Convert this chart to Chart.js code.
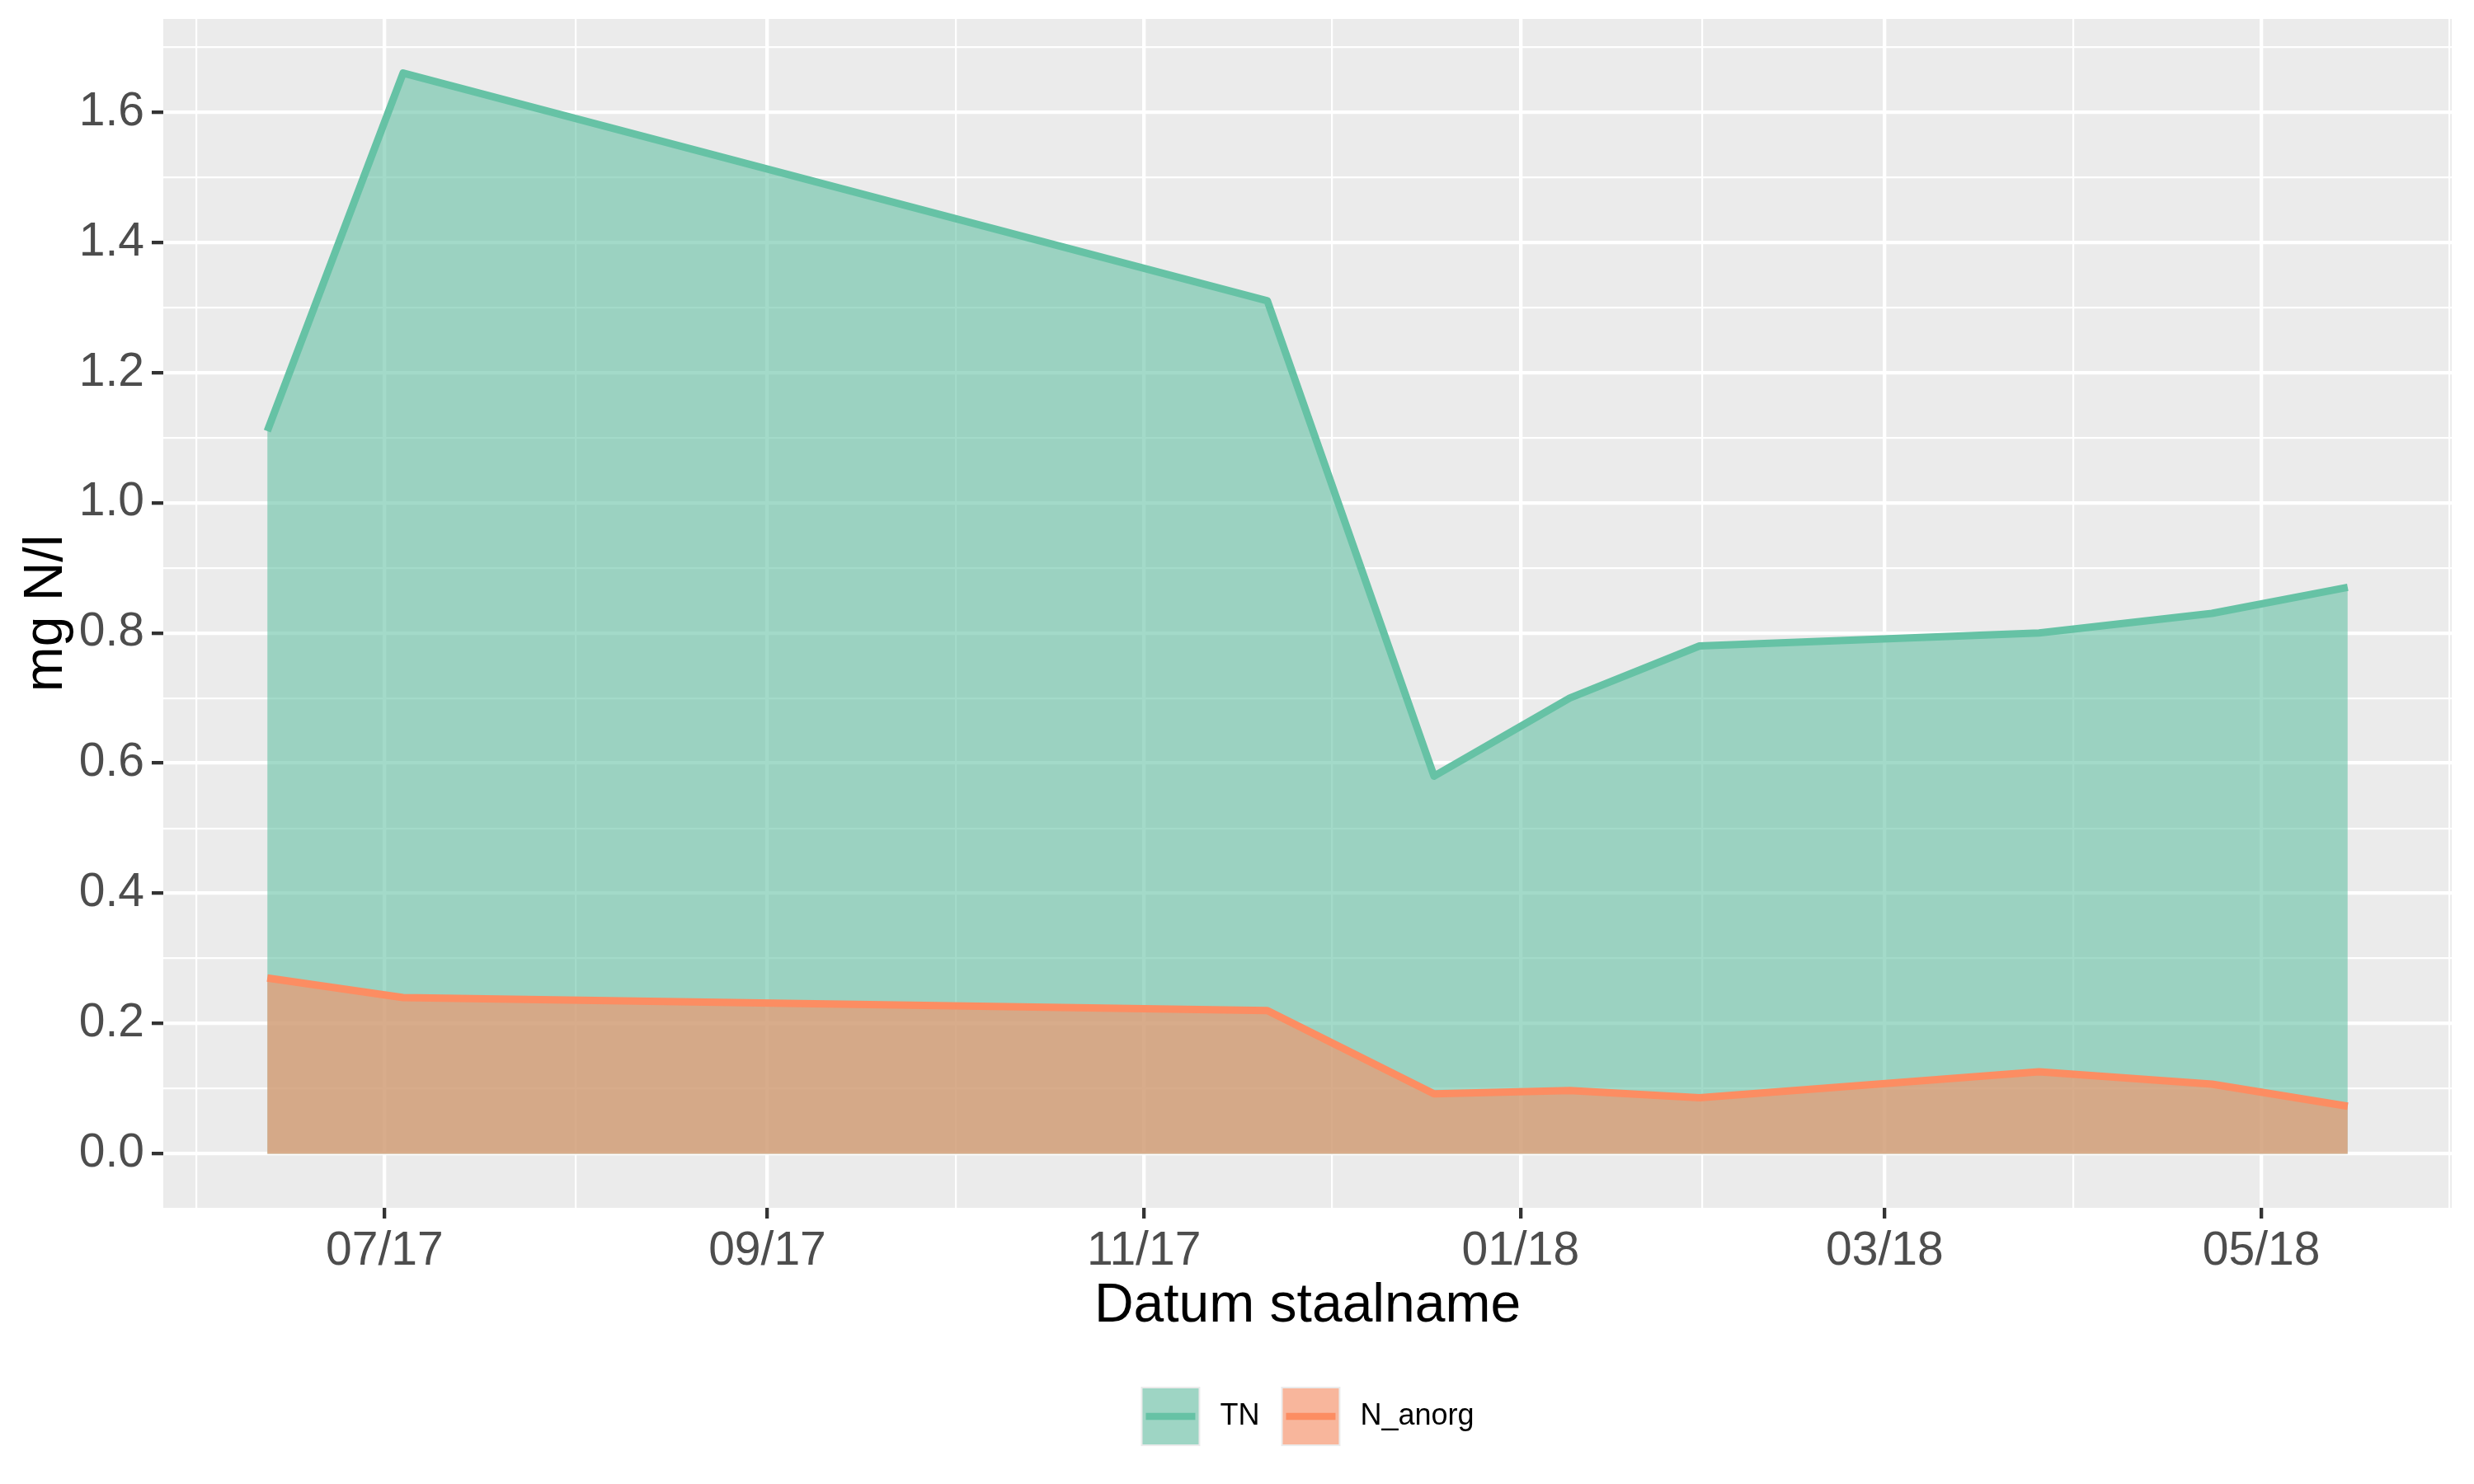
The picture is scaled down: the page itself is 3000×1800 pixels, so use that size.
<!DOCTYPE html>
<html>
<head>
<meta charset="utf-8">
<script src="https://cdn.jsdelivr.net/npm/chart.js@4.4.1/dist/chart.umd.min.js"></script>
<style>
  html, body { margin: 0; padding: 0; background: #ffffff; }
  canvas { display: block; }
</style>
</head>
<body>
<canvas id="nChart" width="3000" height="1800"></canvas>
<script>
// meetwaarden stikstof (mg N/l)
const sampleDates = ['2017-06-12', '2017-07-04', '2017-11-21', '2017-12-18', '2018-01-09',
                     '2018-01-30', '2018-03-26', '2018-04-23', '2018-05-15'];
const tnValues = [1.11, 1.66, 1.31, 0.58, 0.70, 0.78, 0.80, 0.83, 0.87];
const nAnorgValues = [0.27, 0.24, 0.22, 0.092, 0.097, 0.086, 0.126, 0.107, 0.073];
const seriesNames = ['TN', 'N_anorg'];
const seriesColors = ['#66c2a5', '#fc8d62'];

// as-indeling
const xBreaks = ['2017-07-01', '2017-09-01', '2017-11-01', '2018-01-01', '2018-03-01', '2018-05-01'];
const yBreaks = [0.0, 0.2, 0.4, 0.6, 0.8, 1.0, 1.2, 1.4, 1.6];
const xTitle = 'Datum staalname';
const yTitle = 'mg N/l';

function toDay(s) {
    const p = s.split('-').map(Number);
    return Date.UTC(p[0], p[1] - 1, p[2]) / 86400000;
}
function shiftMonths(s, n) {
    const p = s.split('-').map(Number);
    return Date.UTC(p[0], p[1] - 1 + n, p[2]) / 86400000;
}
function dayLabel(v) {
    const d = new Date(v * 86400000);
    const mm = String(d.getUTCMonth() + 1).padStart(2, '0');
    const yy = String(d.getUTCFullYear() % 100).padStart(2, '0');
    return mm + '/' + yy;
}
function rgba(hex, a) {
    const n = parseInt(hex.slice(1), 16);
    return 'rgba(' + (n >> 16) + ',' + ((n >> 8) & 255) + ',' + (n & 255) + ',' + a + ')';
}

// ggplot-achtige uitbreiding van 5%
const xDays = sampleDates.map(toDay);
const xSpan = xDays[xDays.length - 1] - xDays[0];
const xMin = xDays[0] - 0.05 * xSpan;
const xMax = xDays[xDays.length - 1] + 0.05 * xSpan;
const yTop = Math.max(...tnValues, ...nAnorgValues);
const yMin = -0.05 * yTop;
const yMax = yTop * 1.05;

// hoofd- en hulplijnen
function gridTicks(majors, before, after, min, max) {
    const all = [before].concat(majors, [after]);
    const ticks = [];
    all.forEach(function (v, i) {
        ticks.push({ value: v, isMajor: true });
        if (i < all.length - 1) ticks.push({ value: (v + all[i + 1]) / 2, isMajor: false });
    });
    return ticks.filter(t => t.value >= min - 1e-9 && t.value <= max + 1e-9);
}
const xMajor = xBreaks.map(toDay);
const xTicks = gridTicks(xMajor, shiftMonths(xBreaks[0], -2),
    shiftMonths(xBreaks[xBreaks.length - 1], 2), xMin, xMax);
const yStep = yBreaks[1] - yBreaks[0];
const yTicks = gridTicks(yBreaks, yBreaks[0] - yStep, yBreaks[yBreaks.length - 1] + yStep, yMin, yMax);

const panelBg = {
    id: 'panelBg',
    beforeDraw(chart) {
        const a = chart.chartArea;
        const ctx = chart.ctx;
        ctx.save();
        ctx.fillStyle = '#ebebeb';
        ctx.fillRect(a.left, a.top, a.right - a.left, a.bottom - a.top);
        ctx.restore();
    }
};

// legende onderaan, zoals in ggplot
const ggLegend = {
    id: 'ggLegend',
    afterDraw(chart) {
        const ctx = chart.ctx;
        const a = chart.chartArea;
        const key = 72, gapText = 24, gapItem = 26;
        const cy = 1718;
        ctx.save();
        ctx.font = '36px "Liberation Sans", Arial, sans-serif';
        const widths = seriesNames.map(n => ctx.measureText(n).width);
        let total = 0;
        widths.forEach((w, i) => { total += key + gapText + w + (i < widths.length - 1 ? gapItem : 0); });
        let x = (a.left + a.right) / 2 - total / 2;
        seriesNames.forEach(function (name, i) {
            const top = cy - key / 2;
            ctx.fillStyle = '#ebebeb';
            ctx.fillRect(x, top, key, key);
            ctx.fillStyle = '#f2f2f2';
            ctx.fillRect(x + 2, top + 2, key - 4, key - 4);
            ctx.fillStyle = rgba(seriesColors[i], 0.6);
            ctx.fillRect(x + 2, top + 2, key - 4, key - 4);
            ctx.strokeStyle = seriesColors[i];
            ctx.lineWidth = 8.5;
            ctx.beginPath();
            ctx.moveTo(x + 6, cy);
            ctx.lineTo(x + key - 6, cy);
            ctx.stroke();
            ctx.fillStyle = '#000000';
            ctx.textBaseline = 'middle';
            ctx.textAlign = 'left';
            ctx.fillText(name, x + key + gapText, cy);
            x += key + gapText + widths[i] + gapItem;
        });
        ctx.restore();
    }
};

const seriesValues = [tnValues, nAnorgValues];
const datasets = seriesNames.map(function (name, i) {
    return {
        label: name,
        data: xDays.map((d, j) => ({ x: d, y: seriesValues[i][j] })),
        borderColor: seriesColors[i],
        backgroundColor: rgba(seriesColors[i], 0.6),
        borderWidth: 9,
        borderJoinStyle: 'round',
        borderCapStyle: 'butt',
        pointRadius: 0,
        pointHoverRadius: 0,
        tension: 0,
        fill: 'origin',
        order: seriesNames.length - i
    };
});

const fontFamily = '"Liberation Sans", Arial, sans-serif';

new Chart(document.getElementById('nChart'), {
    type: 'line',
    data: { datasets: datasets },
    options: {
        responsive: false,
        devicePixelRatio: 1,
        animation: false,
        layout: { padding: { left: 0, right: 27, top: 23, bottom: 0 } },
        plugins: {
            legend: { display: false },
            tooltip: { enabled: false }
        },
        scales: {
            x: {
                type: 'linear',
                min: xMin,
                max: xMax,
                afterBuildTicks: function (scale) { scale.ticks = xTicks.map(t => Object.assign({}, t)); },
                afterFit: function (scale) {
                    scale.height = 335;
                    scale.paddingLeft = 0;
                    scale.paddingRight = 0;
                },
                border: { display: false },
                grid: {
                    color: '#ffffff',
                    lineWidth: ctx => (ctx.tick && ctx.tick.isMajor ? 4.3 : 2.2),
                    tickColor: ctx => (ctx.tick && ctx.tick.isMajor ? '#333333' : 'rgba(0,0,0,0)'),
                    tickWidth: 4.3,
                    tickLength: 13,
                    drawTicks: true
                },
                ticks: {
                    autoSkip: false,
                    maxRotation: 0,
                    padding: 6,
                    color: '#4d4d4d',
                    font: { family: fontFamily, size: 57 },
                    callback: function (v, i, ticks) { return ticks[i].isMajor ? dayLabel(v) : ''; }
                },
                title: {
                    display: true,
                    text: xTitle,
                    color: '#000000',
                    font: { family: fontFamily, size: 66, lineHeight: 1 },
                    padding: { top: 0, bottom: 182 }
                }
            },
            y: {
                type: 'linear',
                min: yMin,
                max: yMax,
                afterBuildTicks: function (scale) { scale.ticks = yTicks.map(t => Object.assign({}, t)); },
                afterFit: function (scale) {
                    scale.width = 198;
                    scale.paddingTop = 0;
                    scale.paddingBottom = 0;
                },
                border: { display: false },
                grid: {
                    color: '#ffffff',
                    lineWidth: ctx => (ctx.tick && ctx.tick.isMajor ? 4.3 : 2.2),
                    tickColor: ctx => (ctx.tick && ctx.tick.isMajor ? '#333333' : 'rgba(0,0,0,0)'),
                    tickWidth: 4.3,
                    tickLength: 14,
                    drawTicks: true
                },
                ticks: {
                    autoSkip: false,
                    padding: 9,
                    color: '#4d4d4d',
                    font: { family: fontFamily, size: 57 },
                    callback: function (v, i, ticks) { return ticks[i].isMajor ? v.toFixed(1) : ''; }
                },
                title: {
                    display: true,
                    text: yTitle,
                    color: '#000000',
                    font: { family: fontFamily, size: 66, lineHeight: 1 },
                    padding: { top: 24, bottom: 0 }
                }
            }
        }
    },
    plugins: [panelBg, ggLegend]
});
</script>
</body>
</html>
